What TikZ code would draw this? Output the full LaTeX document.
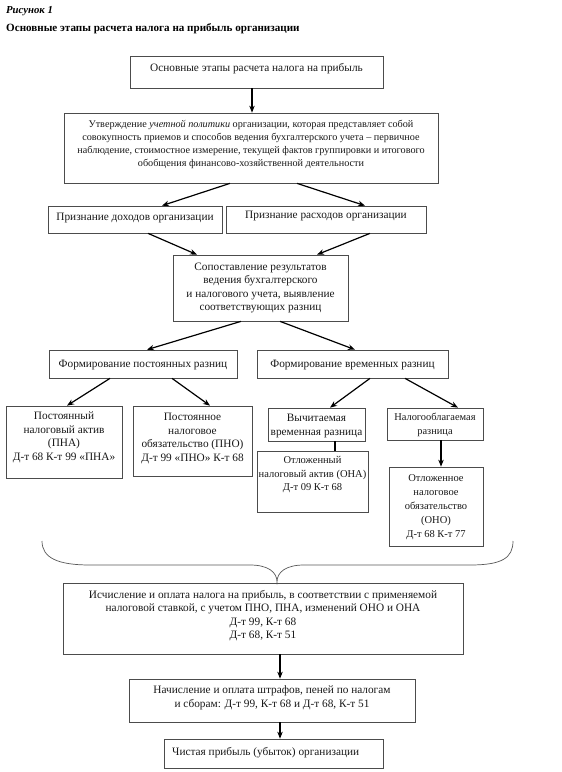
\documentclass[tikz,border=0pt]{standalone}
\usepackage{fontspec}
\setmainfont{Liberation Serif}
\usetikzlibrary{arrows.meta}
\begin{document}
\begin{tikzpicture}[x=1pt,y=-1pt,
  box/.style={draw=black!70,line width=0.7pt,inner sep=0pt,rectangle},
  txt/.style={inner sep=0pt,align=center,text=black!90,font=\fontsize{11.3pt}{13.5pt}\selectfont},
  smalltxt/.style={txt,font=\fontsize{10.2pt}{13pt}\selectfont},
  midtxt/.style={txt,font=\fontsize{10.5pt}{13.5pt}\selectfont},
  arr/.style={draw=black,line width=1.2pt,-{Stealth[length=7pt,width=5.5pt]}},
  plain/.style={draw=black,line width=1.2pt},
  bracestyle/.style={draw=black!65,line width=0.7pt}]
\useasboundingbox (0,0) rectangle (562,772);
\fill[white] (0,0) rectangle (562,772);
% titles
\node[anchor=base west,inner sep=0pt,font=\fontsize{10.7pt}{12pt}\selectfont\bfseries\itshape] (t1) at (6,13) {Рисунок 1};
\node[anchor=base west,inner sep=0pt,font=\fontsize{11.1pt}{12pt}\selectfont\bfseries] (t2) at (6,31) {Основные этапы расчета налога на прибыль организации};
% boxes
\node[box,minimum width=253pt,minimum height=32pt] (b1) at (256.5,72) {};
\node[txt] at (256.5,69) {Основные этапы расчета налога на прибыль};
\node[box,minimum width=374pt,minimum height=70pt] (b2) at (251,148) {};
\node[smalltxt] at (251,144) {Утверждение \textit{учетной политики} организации, которая представляет собой\\совокупность приемов и способов ведения бухгалтерского учета – первичное\\наблюдение, стоимостное измерение, текущей фактов группировки и итогового\\обобщения финансово-хозяйственной деятельности};
\node[box,minimum width=174pt,minimum height=27pt] (b3l) at (135,219.5) {};
\node[txt] at (135,218) {Признание доходов организации};
\node[box,minimum width=200pt,minimum height=27pt] (b3r) at (326,219.5) {};
\node[txt] at (326,216) {Признание расходов организации};
\node[box,minimum width=175pt,minimum height=66pt] (b4) at (260.5,288) {};
\node[txt] at (260.5,288) {Сопоставление результатов\\ведения бухгалтерского\\и налогового учета, выявление\\соответствующих разниц};
\node[box,minimum width=188pt,minimum height=28pt] (b5l) at (143,364) {};
\node[txt] at (143,365) {Формирование постоянных разниц};
\node[box,minimum width=191pt,minimum height=28pt] (b5r) at (352.5,364) {};
\node[txt] at (352.5,365) {Формирование временных разниц};
\node[box,minimum width=116pt,minimum height=72pt] (b6a) at (64,442) {};
\node[txt] at (64,437.5) {Постоянный\\налоговый актив\\(ПНА)\\Д-т 68 К-т 99 «ПНА»};
\node[box,minimum width=119pt,minimum height=70pt] (b6b) at (192.5,441) {};
\node[txt] at (192.5,438.5) {Постоянное\\налоговое\\обязательство (ПНО)\\Д-т 99 «ПНО» К-т 68};
\node[box,minimum width=97pt,minimum height=33pt] (b6c) at (316.5,424.5) {};
\node[txt] at (316.5,426) {Вычитаемая\\временная разница};
\node[box,minimum width=96pt,minimum height=32pt] (b6d) at (435,424) {};
\node[txt,font=\fontsize{10.4pt}{14pt}\selectfont] at (435,424.5) {Налогооблагаемая\\разница};
\node[box,minimum width=111pt,minimum height=61pt] (b7c) at (312.5,481.5) {};
\node[midtxt] at (312.5,475) {Отложенный\\налоговый актив (ОНА)\\Д-т 09 К-т 68};
\node[box,minimum width=94pt,minimum height=79pt] (b7d) at (436,506.5) {};
\node[txt,font=\fontsize{10.5pt}{14pt}\selectfont] at (436,507) {Отложенное\\налоговое\\обязательство\\(ОНО)\\Д-т 68 К-т 77};
\node[box,minimum width=400pt,minimum height=71pt] (b8) at (263,618.5) {};
\node[txt] at (263,615.5) {Исчисление и оплата налога на прибыль, в соответствии с применяемой\\налоговой ставкой, с учетом ПНО, ПНА, изменений ОНО и ОНА\\Д-т 99, К-т 68\\Д-т 68, К-т 51};
\node[box,minimum width=286pt,minimum height=43pt] (b9) at (272,700.5) {};
\node[txt] at (272,698) {Начисление и оплата штрафов, пеней по налогам\\и сборам: Д-т 99, К-т 68 и Д-т 68, К-т 51};
\node[box,minimum width=219pt,minimum height=29pt] (b10) at (273.5,753.5) {};
\node[txt,anchor=west] at (172,752.5) {Чистая прибыль (убыток) организации};
% connectors
\draw[arr] ([xshift=-4.5pt]b1.south) -- ([xshift=1pt]b2.north);
\draw[arr] ([xshift=-21pt]b2.south) -- ([xshift=27pt]b3l.north);
\draw[arr] ([xshift=46pt]b2.south) -- ([xshift=39pt]b3r.north);
\draw[arr] ([xshift=13pt]b3l.south) -- ([xshift=-63.5pt]b4.north);
\draw[arr] ([xshift=44pt]b3r.south) -- ([xshift=56.5pt]b4.north);
\draw[arr] ([xshift=-19.5pt]b4.south) -- ([xshift=4pt]b5l.north);
\draw[arr] ([xshift=19.5pt]b4.south) -- ([xshift=2.5pt]b5r.north);
\draw[arr] ([xshift=-33pt]b5l.south) -- ([xshift=3pt]b6a.north);
\draw[arr] ([xshift=29pt]b5l.south) -- ([xshift=17.5pt]b6b.north);
\draw[arr] ([xshift=17.5pt]b5r.south) -- ([xshift=13.5pt]b6c.north);
\draw[arr] ([xshift=52.5pt]b5r.south) -- ([xshift=23pt]b6d.north);
\draw[plain] ([xshift=18.5pt]b6c.south) -- ([xshift=22.5pt]b7c.north);
\draw[arr] ([xshift=6pt]b6d.south) -- ([xshift=5pt]b7d.north);
\draw[arr] ([xshift=17pt]b8.south) -- ([xshift=8pt]b9.north);
\draw[arr] ([xshift=8pt]b9.south) -- ([xshift=6.5pt]b10.north);
% brace
\draw[bracestyle] (42,541) .. controls (42,558) and (58,565) .. (90,565) -- (250,565) .. controls (268,565) and (277,572) .. (277,582) .. controls (277,572) and (286,565) .. (304,565) -- (470,565) .. controls (502,565) and (513,558) .. (513,541);
\end{tikzpicture}
\end{document}
